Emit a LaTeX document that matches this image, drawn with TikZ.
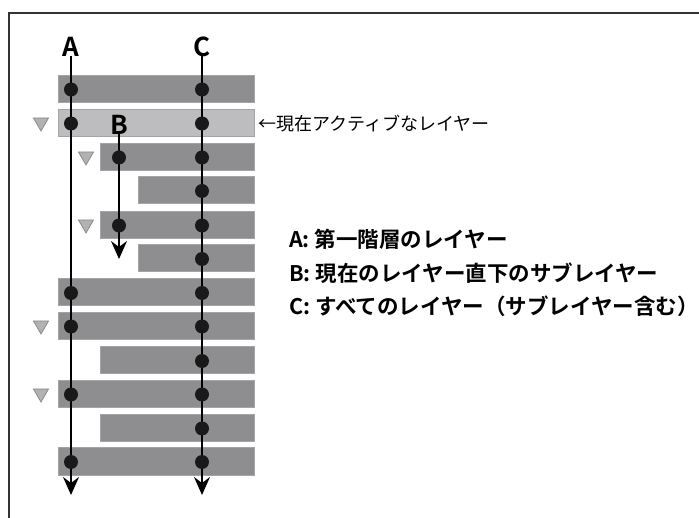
\documentclass[tikz,border=0pt]{standalone}
\usepackage{fontspec}
\newfontfamily\jp{Noto Sans CJK JP}[BoldFont={Noto Sans CJK JP Bold}]
\usetikzlibrary{arrows.meta}
\definecolor{bardark}{HTML}{8E8E90}
\definecolor{barlight}{HTML}{BDBDBF}
\definecolor{baredge}{HTML}{A4A4A6}
\definecolor{trifill}{HTML}{B2B2B4}
\definecolor{triedge}{HTML}{8A8A8C}
\tikzset{
  layerbar/.style={fill=bardark, draw=baredge, line width=1pt},
  activebar/.style={fill=barlight, draw=baredge, line width=1pt},
  toggle/.style={fill=trifill, draw=triedge, line width=0.8pt},
  flowline/.style={line width=2pt, -{Stealth[length=18pt,width=16pt,inset=6pt]}},
  dot/.style={circle, fill=black!90, inner sep=0pt, minimum size=14pt},
  biglabel/.style={font=\jp\bfseries\fontsize{26}{26}\selectfont, inner sep=0pt},
  legend/.style={font=\jp\bfseries\fontsize{21.5}{21.5}\selectfont, anchor=west, inner sep=0pt},
  note/.style={font=\jp\fontsize{18}{18}\selectfont, anchor=west, inner sep=0pt},
  frame/.style={draw=black!80, line width=1.4pt}
}
\begin{document}
\begin{tikzpicture}[x=1pt,y=-1pt]
\useasboundingbox (0,0) rectangle (699,518);
\draw[frame] (699,13) -- (9,13) -- (9,518);
% bars
\foreach \t/\l [count=\i] in {76/58,110/58,144/100,177/138,212/100,245/138,279/58,313/58,347/100,381/58,415/100,448/58}{
  \ifnum\i=2
    \path[activebar] (\l,\t) rectangle (254,\t+27);
  \else
    \path[layerbar] (\l,\t) rectangle (254,\t+27);
  \fi
}
% toggles
\foreach \cx/\cy in {41/123.5,86/157.5,86/225.5,41/326.5,41/394.5}{
  \path[toggle] (\cx-7.5,\cy-5.5) -- (\cx+7.5,\cy-5.5) -- (\cx,\cy+7.5) -- cycle;
}
% labels
\node[biglabel] (A) at (71,47) {A};
\node[biglabel] (C) at (202,47) {C};
\node[biglabel] (B) at (119,125) {B};
\coordinate (Aend) at (71,495);
\coordinate (Cend) at (202,495);
\coordinate (Bend) at (119,259);
\draw[flowline] (A.south) ++(0,-1) -- (Aend);
\draw[flowline] (C.south) ++(0,-1) -- (Cend);
\draw[flowline] (B.south) ++(0,-1) -- (Bend);
% dots
\foreach \y in {89.5,123.5,293,326.5,394.5,462}{ \node[dot] at (71,\y) {}; }
\foreach \y in {157.5,225.5}{ \node[dot] at (119,\y) {}; }
\foreach \y in {89.5,123.5,157.5,191,225.5,259,293,326.5,361,394.5,428.5,462}{ \node[dot] at (202,\y) {}; }
% texts
\node[note] (active) at (258,124) {←現在アクティブなレイヤー};
\node[legend] (la) at (289,239) {A: 第一階層のレイヤー};
\node[legend] (lb) at (289,273) {B: 現在のレイヤー直下のサブレイヤー};
\node[legend] (lc) at (289,306) {C: すべてのレイヤー（サブレイヤー含む）};
\end{tikzpicture}
\end{document}
